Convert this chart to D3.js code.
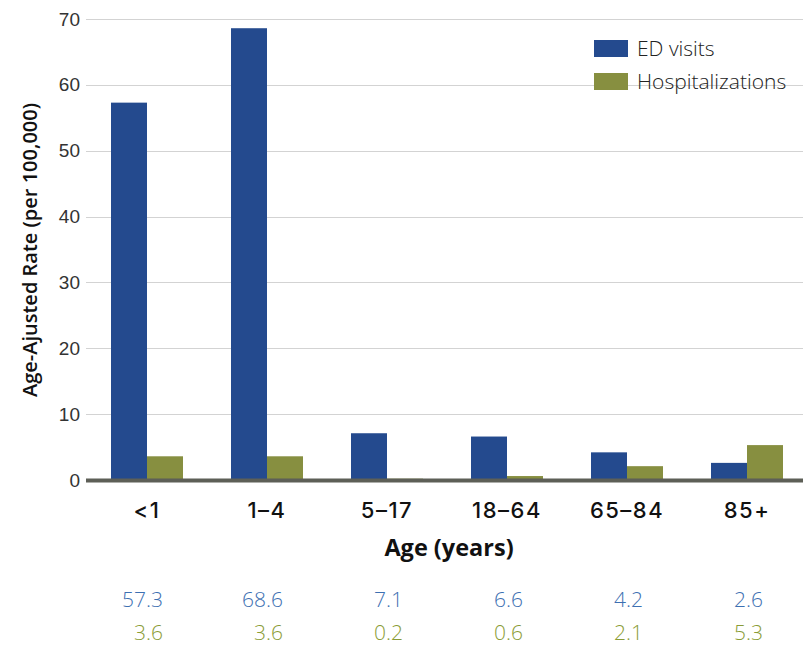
<!DOCTYPE html>
<html>
<head>
<meta charset="utf-8">
<script src="https://cdn.jsdelivr.net/npm/d3@7"></script>
<style>
  html, body { margin: 0; padding: 0; background: #fff; }
  svg { display: block; font-family: "Open Sans", "Noto Sans", sans-serif; }
</style>
</head>
<body>
<svg id="chart" width="803" height="645"></svg>
<script>
// Age groups and rates per 100,000
const categories = ["<1", "1\u20134", "5\u201317", "18\u201364", "65\u201384", "85+"];
const edVisits = [57.3, 68.6, 7.1, 6.6, 4.2, 2.6];
const hospitalizations = [3.6, 3.6, 0.2, 0.6, 2.1, 5.3];
const seriesNames = ["ED visits", "Hospitalizations"];
const yTicks = [0, 10, 20, 30, 40, 50, 60, 70];

const colors = { "ED visits": "#244a8e", "Hospitalizations": "#878f40" };
const labelColors = { "ED visits": "#3d70b2", "Hospitalizations": "#8a9c36" };

const svg = d3.select("#chart");
const plotLeft = 87, plotRight = 807, plotTop = 19, plotBottom = 480;

const x = d3.scaleBand().domain(categories).range([plotLeft, plotRight])
  .paddingInner(0.4).paddingOuter(0.2);
const xs = d3.scaleBand().domain(seriesNames).range([0, x.bandwidth()]);
const y = d3.scaleLinear().domain([0, 70]).range([plotBottom, plotTop]);

const rows = categories.map((c, i) => ({
  cat: c,
  values: [
    { key: "ED visits", v: edVisits[i] },
    { key: "Hospitalizations", v: hospitalizations[i] }
  ]
}));

// gridlines + tick labels
const yAxis = d3.axisLeft(y).tickValues(yTicks).tickSize(0).tickPadding(8);
const gy = svg.append("g").attr("transform", `translate(${plotLeft - 1},0)`).call(yAxis);
gy.select(".domain").remove();
gy.selectAll("text").attr("font-size", 19).attr("fill", "#333").attr("x", -6);
svg.append("g").selectAll("line").data(yTicks.filter(t => t > 0)).join("line")
  .attr("x1", plotLeft - 1).attr("x2", 803)
  .attr("y1", d => Math.round(y(d)) + 0.5).attr("y2", d => Math.round(y(d)) + 0.5)
  .attr("stroke", "#d3d3d3").attr("stroke-width", 1);

// bars
svg.append("g").selectAll("g").data(rows).join("g")
  .attr("transform", d => `translate(${x(d.cat)},0)`)
  .selectAll("rect").data(d => d.values).join("rect")
  .attr("x", d => xs(d.key)).attr("width", xs.bandwidth())
  .attr("y", d => y(d.v)).attr("height", d => y(0) - y(d.v))
  .attr("fill", d => colors[d.key]);

// baseline
svg.append("line").attr("x1", plotLeft - 1).attr("x2", 803)
  .attr("y1", y(0) + 0.5).attr("y2", y(0) + 0.5)
  .attr("stroke", "#5d5f57").attr("stroke-width", 4);

// category axis
const xAxis = d3.axisBottom(x).tickSize(0).tickPadding(0);
const gx = svg.append("g").attr("transform", `translate(0,${plotBottom})`).call(xAxis);
gx.select(".domain").remove();
gx.selectAll("text").attr("font-family", "Inter, 'Open Sans', sans-serif")
  .attr("font-size", 22).attr("font-weight", 500)
  .attr("letter-spacing", 1.5)
  .attr("fill", "#111").attr("dy", 0).attr("y", 38);

svg.append("text").attr("x", 449).attr("y", 556)
  .attr("text-anchor", "middle").attr("font-size", 23.5).attr("font-weight", 700)
  .attr("fill", "#111").text("Age (years)");

// y title
svg.append("text")
  .attr("transform", `translate(37,250) rotate(-90)`)
  .attr("text-anchor", "middle").attr("font-size", 20).attr("font-weight", 600)
  .attr("fill", "#111").text("Age-Ajusted Rate (per 100,000)");

// value table below the chart
const rowY = { "ED visits": 607, "Hospitalizations": 640 };
seriesNames.forEach((s, si) => {
  const vals = si === 0 ? edVisits : hospitalizations;
  svg.append("g").selectAll("text").data(categories).join("text")
    .attr("x", (c) => x(c) + x.bandwidth() / 2 + 16)
    .attr("y", rowY[s])
    .attr("text-anchor", "end").attr("font-size", 21).attr("font-weight", 300)
    .attr("fill", labelColors[s])
    .text((c, i) => vals[i].toFixed(1));
});

// legend
const lg = svg.append("g").attr("transform", "translate(594,40)");
seriesNames.forEach((s, i) => {
  lg.append("rect").attr("x", 0).attr("y", i * 33).attr("width", 34).attr("height", 17)
    .attr("fill", colors[s]);
  lg.append("text").attr("x", 43).attr("y", i * 33 + 16)
    .attr("font-size", 21).attr("font-weight", 300).attr("fill", "#222").text(s);
});
</script>
</body>
</html>
